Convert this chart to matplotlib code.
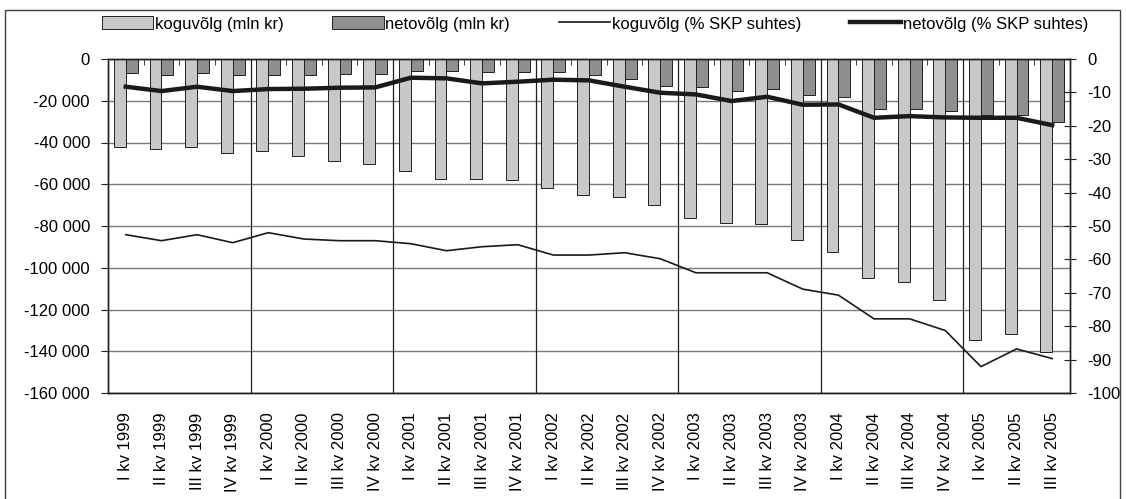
import matplotlib
matplotlib.use("Agg")
from matplotlib import pyplot as plt
from matplotlib.patches import Rectangle
from matplotlib.ticker import FuncFormatter, MultipleLocator

plt.rcParams['font.family'] = ['Liberation Sans', 'DejaVu Sans']
plt.rcParams['font.size'] = 12

#----------Data-----------#

quarters = ["I kv 1999", "II kv 1999", "III kv 1999", "IV kv 1999",
            "I kv 2000", "II kv 2000", "III kv 2000", "IV kv 2000",
            "I kv 2001", "II kv 2001", "III kv 2001", "IV kv 2001",
            "I kv 2002", "II kv 2002", "III kv 2002", "IV kv 2002",
            "I kv 2003", "II kv 2003", "III kv 2003", "IV kv 2003",
            "I kv 2004", "II kv 2004", "III kv 2004", "IV kv 2004",
            "I kv 2005", "II kv 2005", "III kv 2005"]

# koguvõlg (mln kr)
total_debt = [-42000, -43000, -42000, -45000, -44000, -46700, -48700, -50500,
              -53500, -57300, -57300, -58200, -62000, -65100, -66100, -69800,
              -76400, -78400, -79200, -86800, -92400, -104900, -106800, -115400,
              -134400, -131600, -140200]

# netovõlg (mln kr)
net_debt = [-6800, -7600, -6800, -7600, -7600, -7600, -7400, -7400,
            -5600, -5600, -6300, -6300, -6300, -7600, -9500, -12700,
            -13500, -15200, -14300, -17100, -18300, -23800, -23800, -24800,
            -26700, -26700, -30200]

# koguvõlg (% SKP suhtes)
total_pct = [-52.6, -54.4, -52.6, -55.0, -52.0, -53.9, -54.4, -54.4,
             -55.3, -57.4, -56.2, -55.6, -58.7, -58.7, -58.0, -59.8,
             -64.0, -64.0, -64.0, -68.9, -70.7, -77.8, -77.8, -81.3,
             -92.1, -86.8, -89.7]

# netovõlg (% SKP suhtes)
net_pct = [-8.3, -9.6, -8.3, -9.6, -9.0, -8.9, -8.6, -8.5,
           -5.6, -5.8, -7.3, -6.8, -6.2, -6.4, -8.3, -10.1,
           -10.6, -12.6, -11.3, -13.7, -13.6, -17.6, -17.1, -17.5,
           -17.6, -17.6, -19.8]

#----------Plots----------#

fig = plt.figure(figsize=(11.26, 4.99), dpi=100)
W, H = 1126, 499
ax = fig.add_axes([108 / W, 1 - 393 / H, 962 / W, 334 / H])
ax2 = ax.twinx()

x = list(range(len(quarters)))
bw = 1 / 3

ax.bar([i - bw / 2 for i in x], total_debt, width=bw, color='#c8c8c8',
       edgecolor='#202020', linewidth=0.7, label="koguvõlg (mln kr)", zorder=2)
ax.bar([i + bw / 2 for i in x], net_debt, width=bw, color='#8f8f8f',
       edgecolor='#202020', linewidth=0.7, label="netovõlg (mln kr)", zorder=2)

ax2.plot(x, total_pct, color='#1a1a1a', linewidth=1.2, label="koguvõlg (% SKP suhtes)")
ax2.plot(x, net_pct, color='#1a1a1a', linewidth=3.2, label="netovõlg (% SKP suhtes)")

#----------Axes----------#

ax.set_xlim(-0.5, len(quarters) - 0.5)
ax.set_ylim(-160000, 0)
ax2.set_ylim(-100, 0)

ax.yaxis.set_major_locator(MultipleLocator(20000))
ax.yaxis.set_major_formatter(FuncFormatter(lambda v, p: f"{int(v):,}".replace(",", " ")))
ax2.yaxis.set_major_locator(MultipleLocator(10))
ax2.yaxis.set_major_formatter(FuncFormatter(lambda v, p: f"{int(v)}"))

# horizontal grid (gray) behind bars
ax.set_axisbelow(True)
ax.grid(True, axis='y', color='#7a7a7a', linewidth=1.0)

# vertical lines every year
for b in range(4, len(quarters), 4):
    ax.axvline(b - 0.5, color='#202020', linewidth=0.9, zorder=1)

# category labels at bottom, small ticks at top between categories
ax.set_xticks(x)
ax.set_xticklabels(quarters, rotation=90, va='top', ha='center')
ax.set_xticks([i + 0.5 for i in x[:-1]], minor=True)
ax.tick_params(axis='x', which='major', length=0, pad=14)
ax.tick_params(axis='x', which='minor', top=True, bottom=False, direction='in',
               length=4, color='#202020')
ax.tick_params(axis='y', direction='out', length=5, color='#202020', pad=8)
ax2.tick_params(axis='y', direction='inout', length=9, color='#202020', pad=8)

for a in (ax, ax2):
    for s in a.spines.values():
        s.set_color('#202020')
        s.set_linewidth(1.0)

# Legend on top
h1, l1 = ax.get_legend_handles_labels()
h2, l2 = ax2.get_legend_handles_labels()
fig.legend(h1 + h2, l1 + l2, ncol=4, loc='center', bbox_to_anchor=(595 / W, 1 - 24 / H),
           frameon=False, handlelength=3.1, handleheight=0.8, handletextpad=0.1,
           columnspacing=2.9, borderaxespad=0)

# Outer frame of the chart
fig.patches.append(Rectangle((5 / W, -0.05), 1115 / W, 1.05 - 10 / H, transform=fig.transFigure,
                             fill=False, edgecolor='#404040', linewidth=1.0))

fig.savefig("out.png", dpi=100)
